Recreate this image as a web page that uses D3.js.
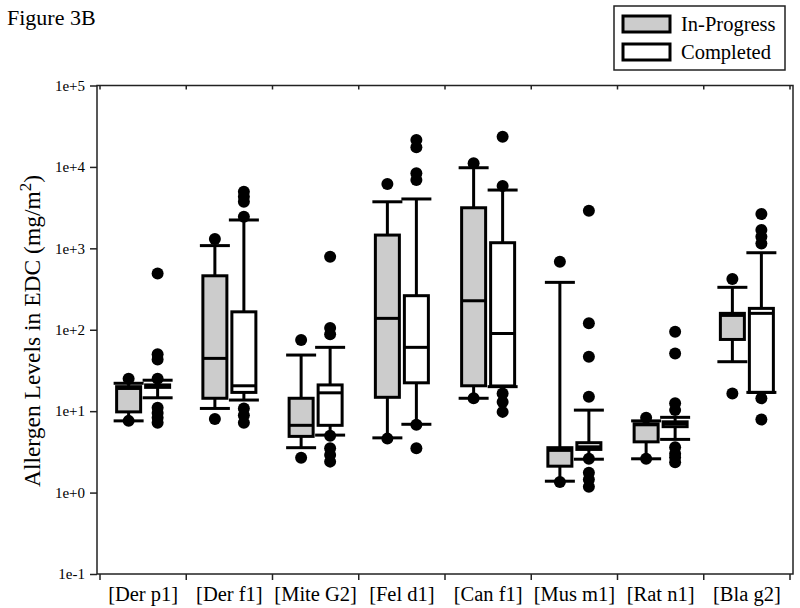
<!doctype html>
<html lang="en">
<head>
<meta charset="utf-8">
<title>Figure 3B</title>
<script src="https://cdn.jsdelivr.net/npm/d3@7/dist/d3.min.js"></script>
<style>
  body { margin: 0; background: #fff; }
  text { font-family: "Liberation Serif", "Times New Roman", serif; fill: #000; }
</style>
</head>
<body>
<script>

var categories = ["[Der p1]", "[Der f1]", "[Mite G2]", "[Fel d1]", "[Can f1]", "[Mus m1]", "[Rat n1]", "[Bla g2]"];
var seriesNames = ["In-Progress", "Completed"];
var yTicks = [1e-1, 1e0, 1e1, 1e2, 1e3, 1e4, 1e5];

// In-Progress (10th, 25th, 50th, 75th, 90th percentiles + outlying points)
var progressLow    = [7.6, 10.8, 3.56, 4.7, 14.4, 1.38, 2.6, 40.5];
var progressQ1     = [9.8, 14.4, 4.9, 14.8, 20.5, 2.11, 4.2, 76];
var progressMedian = [19, 44.5, 6.7, 138, 227, 3.3, 6.8, 150];
var progressQ3     = [20, 460, 14.4, 1455, 3150, 3.56, 7.0, 159];
var progressHigh   = [22, 1080, 48.9, 3730, 9770, 382, 7.6, 332];
var progressOut    = [[25, 7.6], [1300, 8.0], [74.7, 2.67], [6170, 4.6], [11070, 14.4], [684, 1.35], [8.3, 2.6], [420, 16.5]];

// Completed
var completedLow    = [14.6, 13.7, 5.08, 6.9, 20, 2.57, 4.5, 17];
var completedQ1     = [19.6, 17, 6.7, 22.3, 20.4, 3.39, 6.45, 17];
var completedMedian = [20.3, 20.5, 16.8, 60.8, 90, 3.65, 7.0, 159];
var completedQ3     = [21, 166, 21, 262, 1172, 4.1, 7.4, 183];
var completedHigh   = [24, 2230, 60.8, 4040, 5200, 10.3, 8.4, 883];
var completedOut    = [[490, 50, 43, 25, 11, 9.5, 8.3, 7.2], [4950, 4300, 3730, 2440, 10.8, 8.9, 7.2],
                       [789, 105, 88, 5.0, 3.5, 2.9, 2.4], [21400, 17400, 8340, 6900, 6.8, 3.5],
                       [23500, 5820, 16.5, 13, 9.8], [2900, 120, 46.7, 15, 2.6, 1.75, 1.45, 1.18],
                       [94.6, 51, 12.5, 10.3, 3.6, 3.0, 2.7, 2.35], [2640, 1680, 1390, 1150, 14.4, 7.9]];

var width = 800;
var height = 608;

var frame = { left: 97, right: 793, top: 85.5, bottom: 574 };

var x = d3.scaleBand().domain(categories).range([100, 790]).paddingInner(0).paddingOuter(0);
var y = d3.scaleLog().domain([1e-1, 1e5]).range([frame.bottom, frame.top]);

var boxWidth = 24;
var capWidth = 30;
var offsets = [-14.5, 14.5];
var fills = ["#cccccc", "#ffffff"];

function boxData(low, q1, med, q3, high, out, s) {
    return categories.map(function(c, i) {
        return { cat: c, s: s, low: low[i], q1: q1[i], med: med[i], q3: q3[i], high: high[i], out: out[i] };
    });
}

var boxes = boxData(progressLow, progressQ1, progressMedian, progressQ3, progressHigh, progressOut, 0)
    .concat(boxData(completedLow, completedQ1, completedMedian, completedQ3, completedHigh, completedOut, 1));

function cx(d) { return x(d.cat) + x.bandwidth() / 2 + offsets[d.s]; }

var svg = d3.select("body").append("svg").attr("width", width).attr("height", height);

// frame
svg.append("rect")
   .attr("x", frame.left).attr("y", frame.top)
   .attr("width", frame.right - frame.left).attr("height", frame.bottom - frame.top)
   .attr("fill", "none").attr("stroke", "#222").attr("stroke-width", 1.5);

// y axis
var yAxis = svg.append("g")
   .attr("transform", "translate(" + frame.left + ",0)")
   .call(d3.axisLeft(y).tickValues(yTicks).tickSize(7).tickPadding(5)
        .tickFormat(function(v) { var e = Math.round(Math.log10(v)); return "1e" + (e >= 0 ? "+" : "") + e; }));
yAxis.select(".domain").remove();
yAxis.selectAll("line").attr("stroke", "#222").attr("stroke-width", 1.5);
yAxis.selectAll("text").style("font-family", "Liberation Serif").style("font-size", "15px").attr("fill", "#000");

// x axis labels
var xAxis = svg.append("g")
   .attr("transform", "translate(0," + frame.bottom + ")")
   .call(d3.axisBottom(x).tickSize(0).tickPadding(12));
xAxis.select(".domain").remove();
xAxis.selectAll("text").style("font-family", "Liberation Serif").style("font-size", "20.5px").attr("fill", "#000");

// category boundary ticks, bottom (outward) and top (inward)
var bounds = categories.map(function(c) { return x(c); }).concat([x.range()[1]]);
svg.selectAll(".btick").data(bounds).enter().append("line")
   .attr("x1", function(d) { return d; }).attr("x2", function(d) { return d; })
   .attr("y1", frame.bottom).attr("y2", frame.bottom + 6)
   .attr("stroke", "#222").attr("stroke-width", 1.5);
svg.selectAll(".ttick").data(bounds).enter().append("line")
   .attr("x1", function(d) { return d; }).attr("x2", function(d) { return d; })
   .attr("y1", frame.top).attr("y2", frame.top + 4)
   .attr("stroke", "#222").attr("stroke-width", 1.5);

// boxes
var g = svg.selectAll(".box").data(boxes).enter().append("g").attr("class", "box");

g.append("line")
   .attr("x1", cx).attr("x2", cx)
   .attr("y1", function(d) { return y(d.high); }).attr("y2", function(d) { return y(d.low); })
   .attr("stroke", "#000").attr("stroke-width", 3);

g.append("rect")
   .attr("x", function(d) { return cx(d) - boxWidth / 2; })
   .attr("y", function(d) { return y(d.q3); })
   .attr("width", boxWidth)
   .attr("height", function(d) { return Math.max(1, y(d.q1) - y(d.q3)); })
   .attr("fill", function(d) { return fills[d.s]; })
   .attr("stroke", "#000").attr("stroke-width", 3);

g.append("line")
   .attr("x1", function(d) { return cx(d) - boxWidth / 2; })
   .attr("x2", function(d) { return cx(d) + boxWidth / 2; })
   .attr("y1", function(d) { return y(d.med); }).attr("y2", function(d) { return y(d.med); })
   .attr("stroke", "#000").attr("stroke-width", 3);

["low", "high"].forEach(function(k) {
    g.append("line")
       .attr("x1", function(d) { return cx(d) - capWidth / 2; })
       .attr("x2", function(d) { return cx(d) + capWidth / 2; })
       .attr("y1", function(d) { return y(d[k]); }).attr("y2", function(d) { return y(d[k]); })
       .attr("stroke", "#000").attr("stroke-width", 3);
});

g.each(function(d) {
    d3.select(this).selectAll("circle").data(d.out).enter().append("circle")
       .attr("cx", cx(d)).attr("cy", function(v) { return y(v); })
       .attr("r", 6).attr("fill", "#000");
});

// y title
svg.append("text")
   .attr("transform", "translate(40,331) rotate(-90)")
   .attr("text-anchor", "middle")
   .style("font-size", "23.5px")
   .text("Allergen Levels in EDC (mg/m")
   .append("tspan").attr("dy", -9).style("font-size", "17px").text("2")
   .select(function() { return this.parentNode; })
   .append("tspan").attr("dy", 9).text(")");

// figure label
svg.append("text").attr("x", 7).attr("y", 25).style("font-size", "22px").text("Figure 3B");

// legend
var legend = svg.append("g");
legend.append("rect")
   .attr("x", 614).attr("y", 6).attr("width", 171).attr("height", 64)
   .attr("fill", "#fff").attr("stroke", "#222").attr("stroke-width", 1.5);
seriesNames.forEach(function(name, i) {
    legend.append("rect")
       .attr("x", 623).attr("y", 16 + i * 28).attr("width", 47).attr("height", 16)
       .attr("fill", fills[i]).attr("stroke", "#000").attr("stroke-width", 3);
    legend.append("text")
       .attr("x", 681).attr("y", 31 + i * 28)
       .style("font-size", "20.5px").text(name);
});

</script>
</body>
</html>
